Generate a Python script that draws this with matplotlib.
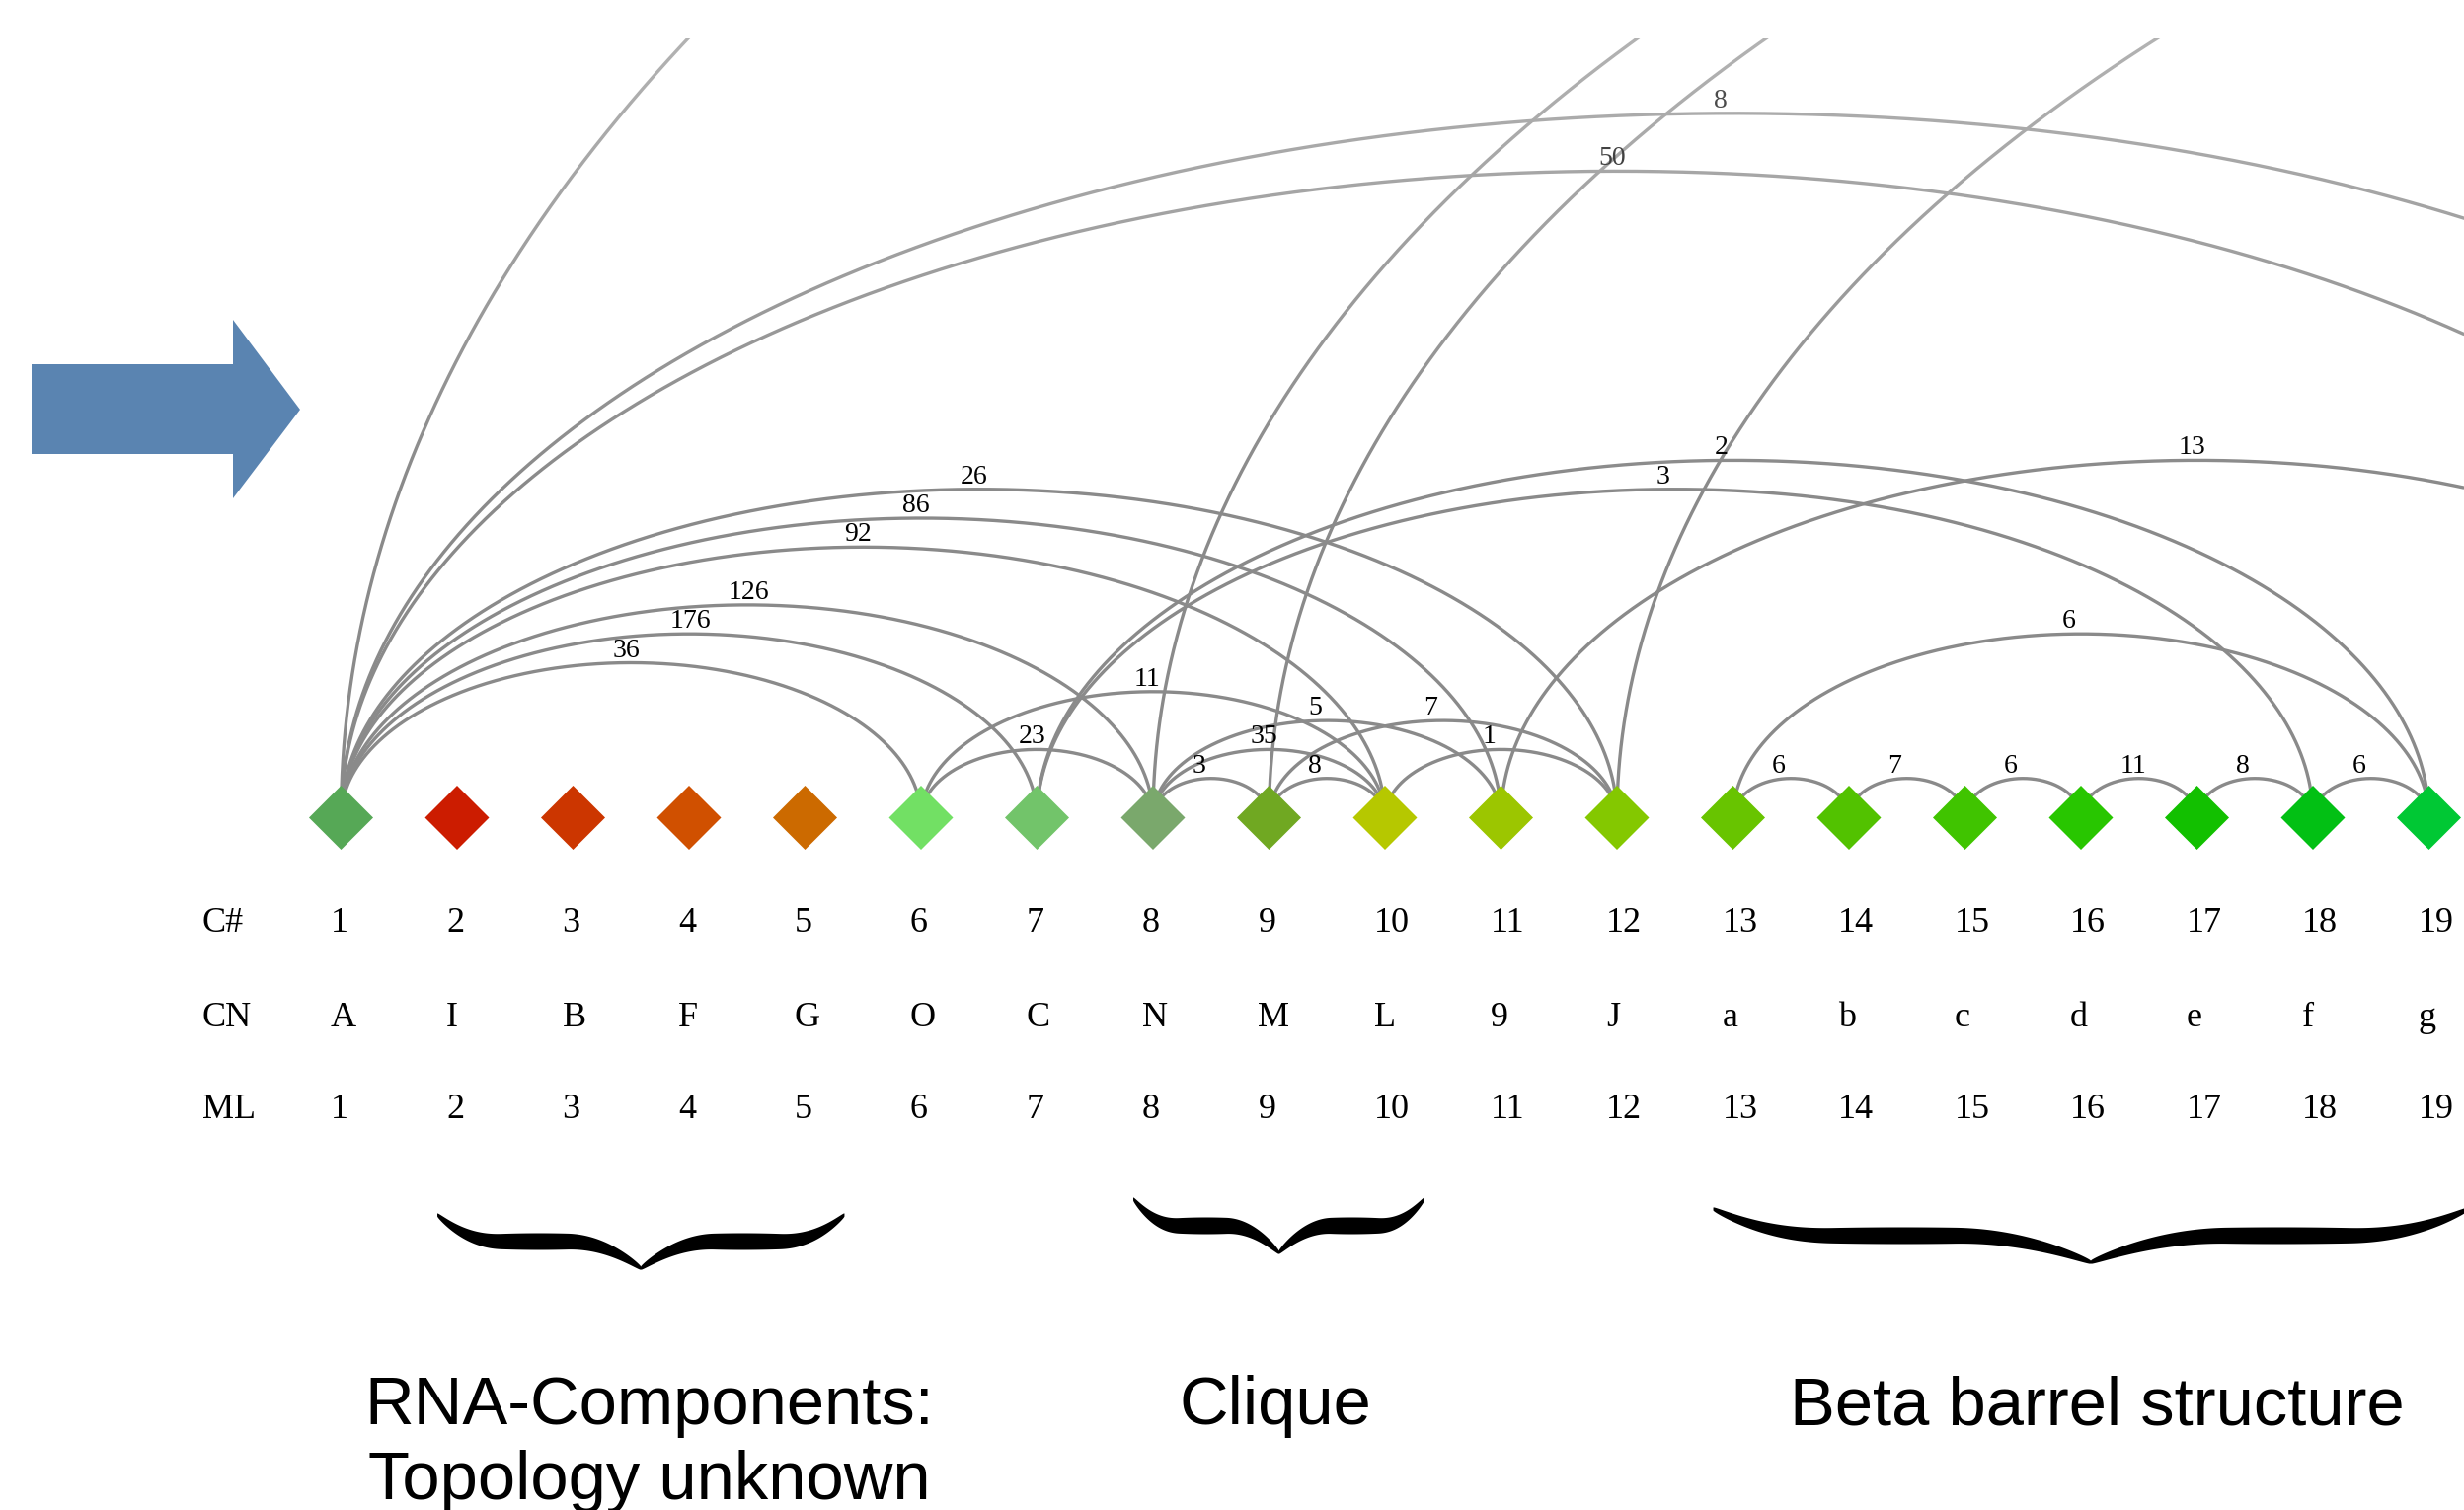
import numpy as np
import matplotlib
matplotlib.use("Agg")
import matplotlib.pyplot as plt
from matplotlib.patches import Polygon, Rectangle

# ------------------------------------------------------------------ data
node_ids = list(range(1, 20))
row_names = ["C#", "CN", "ML"]
c_numbers = [str(i) for i in range(1, 20)]
cn_names = ["A", "I", "B", "F", "G", "O", "C", "N", "M", "L", "9", "J",
            "a", "b", "c", "d", "e", "f", "g"]
ml_order = [str(i) for i in range(1, 20)]
node_colors = ["#56a856", "#cc1c00", "#cc3600", "#d05000", "#cc6a00",
               "#72e064", "#72c46a", "#7aa86c", "#70a822", "#b6c800",
               "#9cc600", "#84c800", "#68c400", "#52c200", "#40c400",
               "#28c600", "#12c000", "#02c014", "#00c834"]

# edges: source node, target node (targets > 19 lie outside the crop), label
edge_src = [1, 1, 1, 1, 1, 1, 1, 1, 1,
            6, 6, 7, 7,
            8, 8, 8, 8, 9, 9, 9, 10, 11, 12,
            13, 14, 15, 16, 17, 18, 13]
edge_dst = [6, 7, 8, 10, 11, 12, 23, 25, 64,
            8, 10, 18, 19,
            9, 10, 11, 55, 10, 12, 55, 12, 23, 55,
            14, 15, 16, 17, 18, 19, 19]
edge_lbl = ["36", "176", "126", "92", "86", "26", "50", "8", "",
            "23", "11", "3", "2",
            "3", "35", "5", "", "8", "7", "", "1", "13", "",
            "6", "7", "6", "11", "8", "6", "6"]

group_names = ["RNA-Components:\nTopology unknown", "Clique", "Beta barrel structure"]
group_first = [2, 8, 13]
group_last = [5, 10, 19]

# ------------------------------------------------------------------ figure
W, H = 2496, 1530
fig = plt.figure(figsize=(W / 100, H / 100), dpi=100)
ax = fig.add_axes([0, 0, 1, 1])
XMIN, XMAX = -1.9404, 19.3021
YMIN, YMAX = -733, 797
ax.axis("off")

line_col = "#8a8a8a"
serif = ["Liberation Serif", "DejaVu Serif"]
sans = ["Liberation Sans", "DejaVu Sans"]

NODE_Y = -31.5  # diamond centre

clip = Rectangle((-5, -800), 90, 759 + 800, transform=ax.transData,
                 facecolor="none", edgecolor="none")

th = np.linspace(0, np.pi, 4000)
for s, t, lab in zip(edge_src, edge_dst, edge_lbl):
    span = t - s
    cx = (s + t) / 2.0
    a = span / 2.0
    h = 29.3 * span - 21          # height of the arc top above the diamond tips
    x = cx - a * np.cos(th)
    y = NODE_Y + (h - NODE_Y) * np.sin(th)
    ln, = ax.plot(x, y, color=line_col, lw=2.4, zorder=2,
                  solid_capstyle="butt")
    ln.set_clip_path(clip)
    if lab:
        ax.text(cx - 0.163, h + 6, lab, ha="left", va="baseline",
                fontsize=20, family=serif, color="black", zorder=4)

# nodes
ax.scatter(node_ids, [NODE_Y] * len(node_ids), marker="D", s=1096,
           c=node_colors, linewidths=0, zorder=3)

# table rows
row_base = [-147, -243, -336]
for r, (name, vals) in enumerate(zip(row_names, [c_numbers, cn_names, ml_order])):
    ax.text(-0.196, row_base[r], name, ha="left", va="baseline",
            fontsize=26, family=serif, color="black")
    for i, v in zip(node_ids, vals):
        ax.text(i - 0.094, row_base[r], v, ha="left", va="baseline",
                fontsize=26, family=serif, color="black")


# braces
def brace(axis, xl, xr, ybar):
    u = np.linspace(0, 1, 400)
    hk = np.clip(1 - u / 0.32, 0, None)
    hook = 27 * hk ** 2.2
    tp = np.clip((u - 0.64) / 0.36, 0, None)
    tip = 27 * tp ** 2.0
    yc = ybar + hook - tip
    thick = 3 + 14 * np.sin(np.pi * u) ** 0.55
    xm = (xl + xr) / 2.0
    X = np.concatenate([xl + u * (xm - xl), (xr - u * (xr - xm))[::-1]])
    Yc = np.concatenate([yc, yc[::-1]])
    T = np.concatenate([thick, thick[::-1]])
    upper = np.column_stack([X, Yc + T / 2])
    lower = np.column_stack([X[::-1], (Yc - T / 2)[::-1]])
    axis.add_patch(Polygon(np.vstack([upper, lower]), closed=True,
                           facecolor="black", edgecolor="none", zorder=3))
    return xm


brace_y = [-461, -445, -455]
text_dx = [0.07, -0.03, 0.05]
for g, (name, f, l) in enumerate(zip(group_names, group_first, group_last)):
    xm = brace(ax, f - 0.17, l + 0.34, brace_y[g])
    for k, line in enumerate(name.split("\n")):
        ax.text(xm + text_dx[g], -646 - 76 * k, line, ha="center", va="baseline",
                fontsize=49.5, family=sans, color="black")

# soft fade of the upper region
grad = np.ones((256, 1, 4))
grad[:, 0, 3] = np.linspace(0.38, 0.0, 256)
ax.imshow(grad, extent=[XMIN, XMAX, 297, 797], origin="upper",
          aspect="auto", zorder=5, interpolation="bilinear")

ax.set_xlim(XMIN, XMAX)
ax.set_ylim(YMIN, YMAX)

# decorative arrow (pixel coordinates)
deco = fig.add_axes([0, 0, 1, 1])
deco.set_xlim(0, W)
deco.set_ylim(H, 0)
deco.axis("off")
deco.patch.set_alpha(0)
arrow = [(32, 369), (236, 369), (236, 324), (304, 415),
         (236, 505), (236, 460), (32, 460)]
deco.add_patch(Polygon(arrow, closed=True, facecolor="#5a84b1",
                       edgecolor="none"))

fig.savefig("out.png", dpi=100, facecolor="white")
